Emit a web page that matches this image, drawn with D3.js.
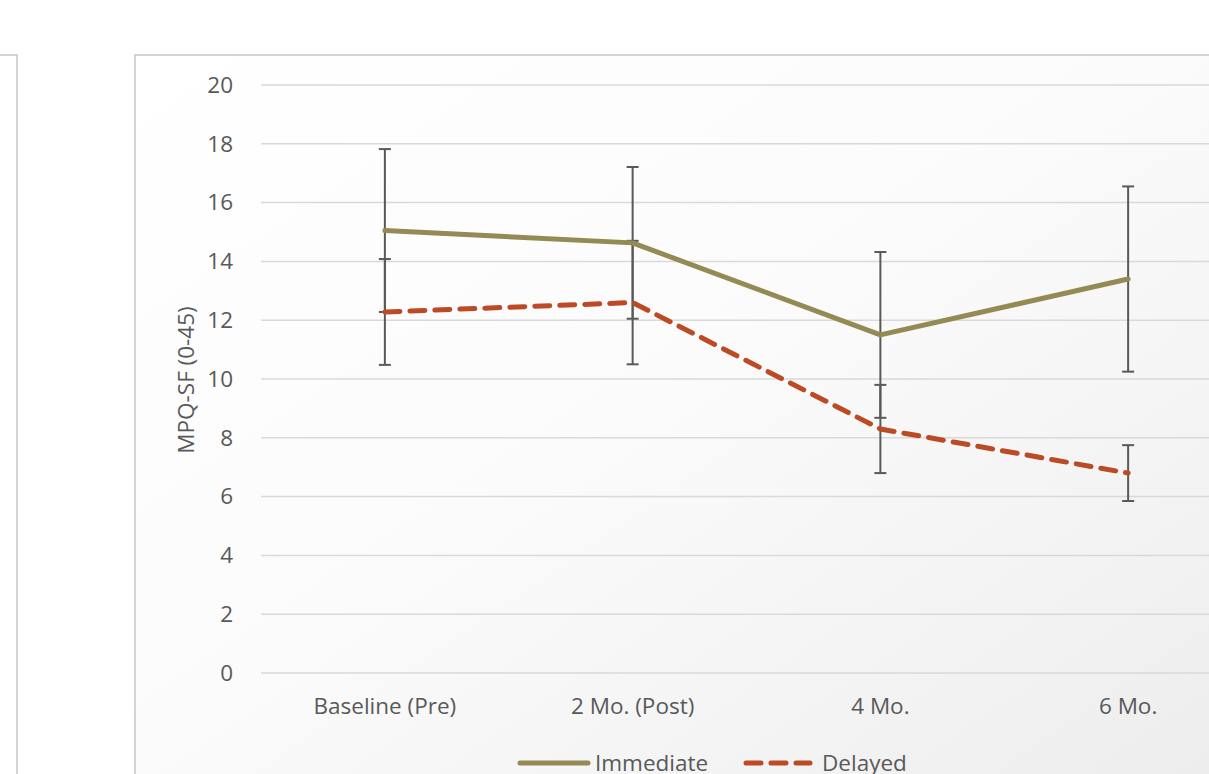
<!DOCTYPE html>
<html>
<head>
<meta charset="utf-8">
<script src="https://cdn.jsdelivr.net/npm/d3@7"></script>
<style>
  body { margin:0; background:#fff; overflow:hidden; }
  svg { display:block; font-family: "Open Sans", sans-serif; }
</style>
</head>
<body>
<svg id="chart" width="1209" height="774"></svg>
<script>
var categories = ["Baseline (Pre)", "2 Mo. (Post)", "4 Mo.", "6 Mo."];
var immediateMean = [15.05, 14.63, 11.5, 13.4];
var immediateErr  = [2.77, 2.58, 2.82, 3.15];
var delayedMean   = [12.28, 12.6, 8.3, 6.8];
var delayedErr    = [1.8, 2.1, 1.5, 0.95];
var yTicks = [0, 2, 4, 6, 8, 10, 12, 14, 16, 18, 20];

var svg = d3.select("#chart");
var fontFam = "'Open Sans', sans-serif";
var fontSize = "22.5px";

// background gradient of chart area
var defs = svg.append("defs");
var grad = defs.append("linearGradient")
  .attr("id", "bg").attr("x1", "0").attr("y1", "0").attr("x2", "1").attr("y2", "1");
grad.append("stop").attr("offset", "0%").attr("stop-color", "#ffffff");
grad.append("stop").attr("offset", "45%").attr("stop-color", "#fbfbfb");
grad.append("stop").attr("offset", "100%").attr("stop-color", "#ececec");

// neighbouring chart frame on the left (cut off)
svg.append("rect")
  .attr("x", -20).attr("y", 55).attr("width", 37).attr("height", 760)
  .attr("fill", "#fff").attr("stroke", "#c6c6c6").attr("stroke-width", 1.5);

// main chart frame
svg.append("rect")
  .attr("x", 135).attr("y", 55).attr("width", 1120).attr("height", 760)
  .attr("fill", "url(#bg)").attr("stroke", "#c6c6c6").attr("stroke-width", 1.5);

var margin = {left: 261, top: 85};
var plotW = 991, plotH = 588;

var x = d3.scaleBand().domain(categories).range([0, plotW]);
var y = d3.scaleLinear().domain([0, 20]).range([plotH, 0]);
var cx = function(i){ return x(categories[i]) + x.bandwidth() / 2; };

var g = svg.append("g").attr("transform", "translate(" + margin.left + "," + margin.top + ")");

// gridlines
g.append("g").selectAll("line").data(yTicks).enter().append("line")
  .attr("x1", 0).attr("x2", plotW)
  .attr("y1", function(d){ return y(d); }).attr("y2", function(d){ return y(d); })
  .attr("stroke", "#d9d9d9").attr("stroke-width", 1.5);

// y axis labels
var yAxis = d3.axisLeft(y).tickValues(yTicks).tickSize(0).tickPadding(28);
var ya = g.append("g").call(yAxis);
ya.select(".domain").remove();
ya.selectAll("text").attr("fill", "#595959").style("font-size", fontSize)
  .style("font-family", fontFam);

// x axis labels
var xAxis = d3.axisBottom(x).tickSize(0).tickPadding(25);
var xa = g.append("g").attr("transform", "translate(0," + plotH + ")").call(xAxis);
xa.select(".domain").remove();
xa.selectAll("text").attr("fill", "#595959").style("font-size", fontSize)
  .style("font-family", fontFam);

// y axis title
g.append("text")
  .attr("transform", "rotate(-90)")
  .attr("x", -(380 - margin.top))
  .attr("y", 194 - margin.left)
  .attr("text-anchor", "middle")
  .attr("fill", "#595959").style("font-size", fontSize)
  .text("MPQ-SF (0-45)");

// error bars
function drawErr(mean, err) {
  var eg = g.append("g").attr("stroke", "#595959").attr("stroke-width", 2);
  mean.forEach(function(m, i){
    var top = y(m + err[i]), bot = y(m - err[i]), xc = cx(i);
    eg.append("line").attr("x1", xc).attr("x2", xc).attr("y1", top).attr("y2", bot);
    eg.append("line").attr("x1", xc - 6).attr("x2", xc + 6).attr("y1", top).attr("y2", top);
    eg.append("line").attr("x1", xc - 6).attr("x2", xc + 6).attr("y1", bot).attr("y2", bot);
  });
}
drawErr(immediateMean, immediateErr);
drawErr(delayedMean, delayedErr);

var line = d3.line().x(function(d, i){ return cx(i); }).y(function(d){ return y(d); });

g.append("path").datum(immediateMean).attr("d", line)
  .attr("fill", "none").attr("stroke", "#948a54").attr("stroke-width", 5)
  .attr("stroke-linejoin", "round").attr("stroke-linecap", "round");

g.append("path").datum(delayedMean).attr("d", line)
  .attr("fill", "none").attr("stroke", "#bb4a25").attr("stroke-width", 5)
  .attr("stroke-dasharray", "15 10").attr("stroke-linecap", "round")
  .attr("stroke-linejoin", "round");

// legend
var lg = svg.append("g");
lg.append("line").attr("x1", 520).attr("x2", 588).attr("y1", 763).attr("y2", 763)
  .attr("stroke", "#948a54").attr("stroke-width", 5).attr("stroke-linecap", "round");
lg.append("text").attr("x", 595).attr("y", 771).attr("fill", "#595959")
  .style("font-size", fontSize).text("Immediate");
lg.append("line").attr("x1", 746).attr("x2", 810).attr("y1", 763).attr("y2", 763)
  .attr("stroke", "#bb4a25").attr("stroke-width", 5).attr("stroke-linecap", "round")
  .attr("stroke-dasharray", "15 10");
lg.append("text").attr("x", 822).attr("y", 771).attr("fill", "#595959")
  .style("font-size", fontSize).text("Delayed");
</script>
</body>
</html>
